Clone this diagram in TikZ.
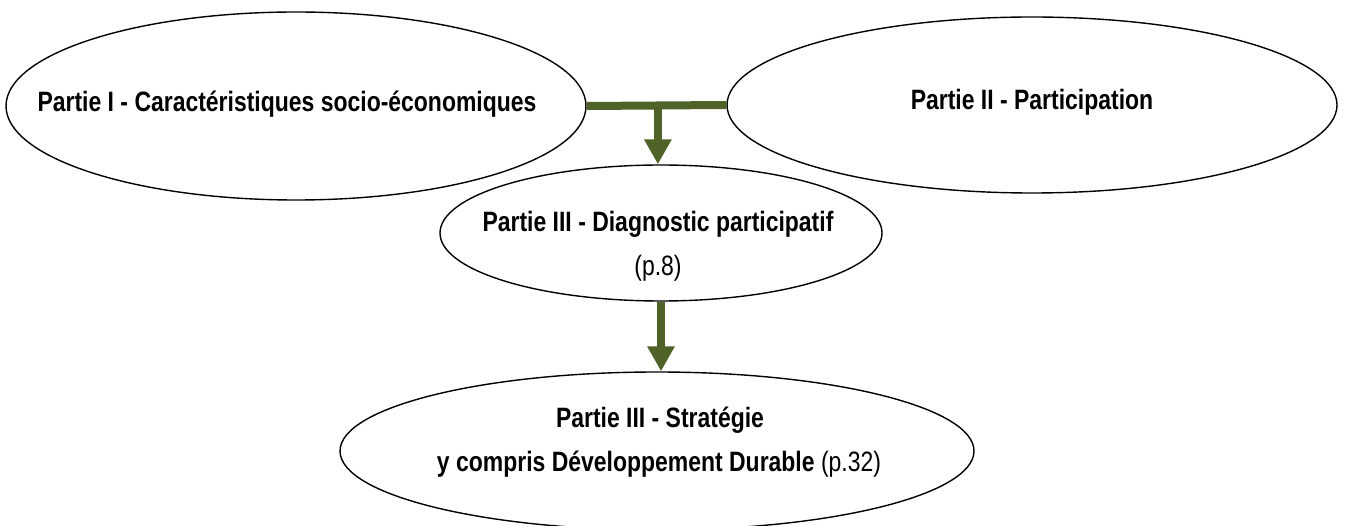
\documentclass[tikz,border=0pt]{standalone}
\usepackage{fontspec}
\setmainfont{Liberation Sans}[FakeStretch=0.82]
\usetikzlibrary{shapes.geometric,arrows.meta}
\definecolor{vertfonce}{HTML}{4F6228}
\tikzset{
  bulle/.style={draw,ellipse,line width=1.4pt,inner sep=0pt},
  titre/.style={font=\fontsize{28}{44}\selectfont,inner sep=0pt,anchor=base},
  lien/.style={draw=vertfonce,line width=8pt},
  fleche/.style={lien,-{Triangle[width=26pt,length=25pt]}}
}
\begin{document}
\begin{tikzpicture}[x=1pt,y=-1pt]
  \useasboundingbox (0,0) rectangle (1346,526);
  % les parties
  \node[bulle,minimum width=580pt,minimum height=188pt] (p1) at (296,106) {};
  \node[bulle,minimum width=610pt,minimum height=176pt] (p2) at (1032,105) {};
  \node[bulle,minimum width=442pt,minimum height=136pt] (p3) at (661,233) {};
  \node[bulle,minimum width=634pt,minimum height=158pt] (p4) at (657,451) {};
  \node[titre] (t1) at (287,112) {\textbf{Partie I - Caractéristiques socio-économiques}};
  \node[titre] (t2) at (1032,110) {\textbf{Partie II - Participation}};
  \node[titre] (t3) at (658,232) {\textbf{Partie III - Diagnostic participatif}};
  \node[titre] (t3b) at (658,276) {(p.8)};
  \node[titre] (t4) at (660,427) {\textbf{Partie III - Stratégie}};
  \node[titre] (t4b) at (659,471) {\textbf{y compris Développement Durable} (p.32)};
  % liens
  \draw[lien] (p1.east) -- coordinate[pos=0.51] (j) (p2.west);
  \draw[fleche] (j) -- (j |- p3.north);
  \draw[fleche] (p3.south) -- (p3.south |- p4.north);
\end{tikzpicture}
\end{document}
